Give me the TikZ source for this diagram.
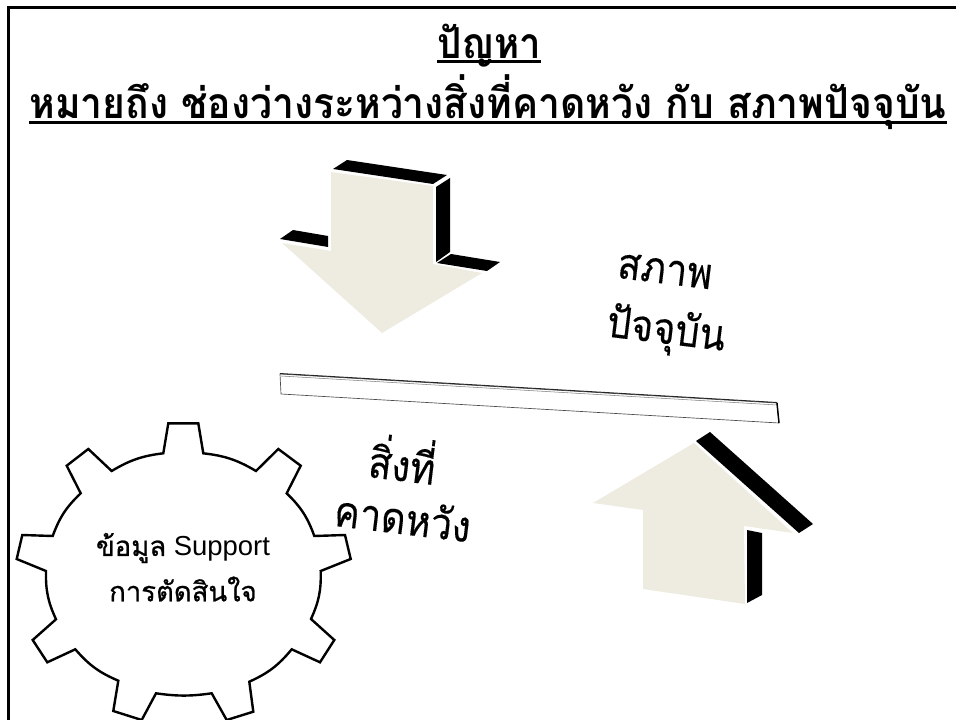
\documentclass[tikz,border=0pt]{standalone}
\usepackage{fontspec}
\newfontfamily\thaifont[Script=Thai,FakeBold=0.8]{Loma}
\newfontfamily\titlefont[Script=Thai,FakeStretch=0.9]{Loma}
\newfontfamily\titlewide[Script=Thai,FakeStretch=0.915]{Loma}
\newfontfamily\bigfont[Script=Thai,FakeStretch=0.88,FakeBold=0.25]{Loma}
\setmainfont{Liberation Sans}
\newcommand\ulbox[1]{\setbox0\hbox{#1}\rlap{\raisebox{-3.6pt}{\rule{\wd0}{2pt}}}\box0}
\definecolor{arrowface}{HTML}{EEECE1}
\tikzset{
 face/.style={fill=arrowface,draw=none},
 shade3d/.style={fill=black,draw=none},
 titletext/.style={font=\titlefont\bfseries\fontsize{32}{36}\selectfont,inner sep=0pt},
 titlelong/.style={font=\titlewide\bfseries\fontsize{32}{36}\selectfont,inner sep=0pt},
 bigtext/.style={font=\bigfont\fontsize{32.5}{38}\selectfont,inner sep=0pt,rotate=-7},
 geartext/.style={font=\fontsize{20.6}{24}\selectfont,inner sep=0pt}
}
\begin{document}
\begin{tikzpicture}[x=0.75pt,y=-0.75pt]
\useasboundingbox (0,0) rectangle (956,720);
\clip (0,0) rectangle (956,720);
\draw[line width=2.2pt] (7,7.3) -- (956,7.3);
\draw[line width=2.2pt] (8.7,6) -- (8.7,720);
\node[titletext] (t1) at (489,45.5) {\ulbox{ปัญหา}};
\node[titlelong] (t2) at (488,102.5) {\ulbox{หมายถึง ช่องว่างระหว่างสิ่งที่คาดหวัง กับ สภาพปัจจุบัน}};
% down arrow
\fill[face] (331,172)--(433,186)--(433,264)--(482,273)--(382,333)--(282,243)--(331,251)--cycle;
\fill[shade3d] (333,169)--(347,160)--(447,175)--(433,184)--cycle;
\fill[shade3d] (436,187)--(450,178)--(450,252)--(436,262)--cycle;
\fill[shade3d] (437,263)--(451,254)--(500,262)--(487,271)--cycle;
\fill[shade3d] (280,239)--(293,230)--(328,236)--(328,247)--cycle;
% bar
\draw[line width=0.5pt,black!70,fill=white] (280,374)--(777,403)--(779,423)--(281,394)--cycle;
\draw[line width=0.7pt,black!85] (280,373.5)--(777,402.5);
\draw[line width=0.4pt,black!50] (281,376)--(777,405);
\draw[line width=1.1pt] (777,403)--(779,423);
% up arrow
\fill[face] (593,503)--(694,443)--(793,533)--(744,526)--(745,604)--(643,589)--(643,510)--cycle;
\fill[shade3d] (696,441)--(710,432)--(813,524)--(799,533)--cycle;
\fill[shade3d] (747,530)--(762,533)--(762,595)--(747,603)--cycle;
% gear
\draw[line width=1.8pt,line join=miter,fill=white]
 (163.3,453.3)--(168.3,423.3)--(198.3,423.3)--(203.3,453.3)
 to[bend left=12] (256,471)--(278.3,449)--(300.7,465.7)--(286.7,493.3)
 to[bend left=13] (314.3,536)--(345,535)--(350.7,559)--(320.7,571)
 to[bend left=13] (311,619)--(334.3,640)--(320,662.3)--(291.7,649.3)
 to[bend left=13] (249.3,681.7)--(253.3,711.7)--(226.7,720)--(211.7,693.3)
 to[bend left=8] (156,693.3)--(141.7,720)--(113.3,711)--(118.3,680.7)
 to[bend left=13] (75.3,649.3)--(47.3,662.3)--(32.7,640)--(56,619.3)
 to[bend left=13] (46,571)--(16.7,559)--(22.3,535)--(52.7,536)
 to[bend left=13] (80.7,493.3)--(66.7,465.7)--(88.3,449)--(111.7,471)
 to[bend left=12] (163.3,453.3)--cycle;
\node[geartext] (g1) at (183,548) {{\thaifont ข้อมูล} Support};
\node[geartext] (g2) at (183,589) {\thaifont การตัดสินใจ};
\node[bigtext] (s1) at (665,271) {สภาพ};
\node[bigtext] (s2) at (666,332) {ปัจจุบัน};
\node[bigtext] (e1) at (403,459) {สิ่งที่};
\node[bigtext] (e2) at (403,517) {คาดหวัง};
\end{tikzpicture}
\end{document}
